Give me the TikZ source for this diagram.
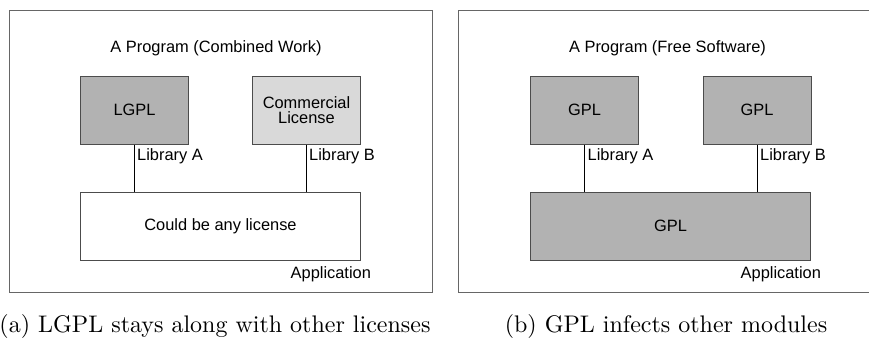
\documentclass[tikz,border=0pt]{standalone}
\usepackage{fontspec}
\setsansfont{Liberation Sans}
\newfontfamily\capfont[Extension=.otf]{lmroman10-regular}
\begin{document}
\begin{tikzpicture}[x=1pt,y=-1pt,
  frame/.style={draw=black!60, line width=1pt},
  lic/.style={draw=black!70, line width=1pt, rectangle, minimum width=108pt, minimum height=68pt, inner sep=0pt, align=center, font=\sffamily\fontsize{16.4}{15}\selectfont},
  appbox/.style={lic, minimum width=280pt},
  lbl/.style={inner sep=0pt, font=\sffamily\fontsize{16.4}{18}\selectfont},
  captext/.style={inner sep=0pt, font=\capfont\fontsize{24}{28}\selectfont},
  conn/.style={draw=black, line width=0.9pt}
]
\useasboundingbox (0,0) rectangle (869,338);
% ---- left panel ----
\draw[frame] (9,10) rectangle (432,292);
\node[lbl, anchor=base] (titleA) at (216,52.5) {A Program (Combined Work)};
\node[lic, fill=black!30] (lgpl) at (134.5,110) {LGPL};
\node[lic, fill=black!15] (comm) at (306.5,110) {Commercial\\License};
\node[appbox, fill=white] (appA) at (220.5,226) {Could be any license};
\draw[conn] (lgpl.south) -- (lgpl.south |- appA.north);
\draw[conn] (comm.south) -- (comm.south |- appA.north);
\node[lbl, anchor=base west] (libA1) at (137,160) {Library A};
\node[lbl, anchor=base west] (libB1) at (309,160) {Library B};
\node[lbl, anchor=base west] (appl1) at (290.5,278) {Application};
\node[captext, anchor=base] (capA) at (215,332.7) {(a) LGPL stays along with other licenses};
% ---- right panel ----
\draw[frame] (875,10) -- (458,10) -- (458,292) -- (875,292);
\node[lbl, anchor=base] (titleB) at (667.5,52.5) {A Program (Free Software)};
\node[lic, fill=black!30] (gplA) at (584.5,110) {GPL};
\node[lic, fill=black!30] (gplB) at (757,110) {GPL};
\node[appbox, fill=black!30] (appB) at (670.5,226) {GPL};
\draw[conn] (gplA.south) -- (gplA.south |- appB.north);
\draw[conn] (gplB.south) -- (gplB.south |- appB.north);
\node[lbl, anchor=base west] (libA2) at (587.5,160) {Library A};
\node[lbl, anchor=base west] (libB2) at (760,160) {Library B};
\node[lbl, anchor=base west] (appl2) at (740.5,278) {Application};
\node[captext, anchor=base] (capB) at (666,332.7) {(b) GPL infects other modules};
\end{tikzpicture}
\end{document}
